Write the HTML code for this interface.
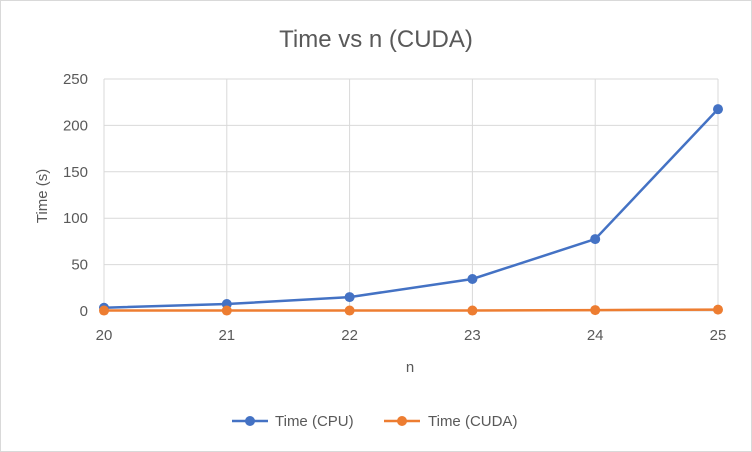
<!DOCTYPE html>
<html><head><meta charset="utf-8"><style>
html,body{margin:0;padding:0;background:#fff;}
svg{display:block;font-family:"Liberation Sans",sans-serif;}
</style></head><body>
<svg id="chart" width="752" height="452">
<rect x="0.5" y="0.5" width="751" height="451" fill="#fff" stroke="#d9d9d9"/>
<text x="376" y="47" text-anchor="middle" font-size="24" fill="#595959">Time vs n (CUDA)</text>
<g id="grid"></g><g id="axes"></g><g id="series"></g>
<text x="410" y="372" text-anchor="middle" font-size="15" fill="#595959">n</text>
<text transform="translate(47,196) rotate(-90)" text-anchor="middle" font-size="15" fill="#595959">Time (s)</text>
<g>
<g>
<line x1="232" y1="421" x2="268" y2="421" stroke="#4472c4" stroke-width="2.5"/>
<circle cx="250" cy="421" r="5" fill="#4472c4"/>
<text x="275" y="426" font-size="15" fill="#595959">Time (CPU)</text></g>
<g>
<line x1="384" y1="421" x2="420" y2="421" stroke="#ed7d31" stroke-width="2.5"/>
<circle cx="402" cy="421" r="5" fill="#ed7d31"/>
<text x="428" y="426" font-size="15" fill="#595959">Time (CUDA)</text></g>
</g>
</svg>
<script>
const categories=[20,21,22,23,24,25];
const cpuValues=[3.5,7.5,15,34.5,77.5,217.5];
const cudaValues=[0.5,0.5,0.5,0.5,1,1.5];
const yTicks=[0,50,100,150,200,250];
const NS="http://www.w3.org/2000/svg";
const x0=104,x1=718,y0=311,y1=79;
function xs(i){return x0+(x1-x0)*i/(categories.length-1);}
function ys(v){return y0-(y0-y1)*v/250;}
function mk(tag,attrs,parent){const e=document.createElementNS(NS,tag);for(const k in attrs)e.setAttribute(k,attrs[k]);parent.appendChild(e);return e;}
const grid=document.getElementById('grid'),axes=document.getElementById('axes'),ser=document.getElementById('series');
yTicks.forEach(t=>{
 if(t>0){const l=mk('line',{x1:x0,x2:x1,y1:ys(t),y2:ys(t),stroke:'#d9d9d9','stroke-width':1},grid);
 
 }
 const tx=mk('text',{x:88,y:ys(t)+5,'text-anchor':'end','font-size':15,fill:'#595959'},axes);
 tx.textContent=t;
 
 
});
categories.forEach((c,i)=>{
 const l=mk('line',{x1:xs(i),x2:xs(i),y1:y1,y2:y0,stroke:'#d9d9d9','stroke-width':1},grid);
 
 
 const tx=mk('text',{x:xs(i),y:340,'text-anchor':'middle','font-size':15,fill:'#595959'},axes);
 tx.textContent=c;
 
 
});
const ax=mk('line',{x1:x0,x2:x1,y1:y0,y2:y0,stroke:'#d9d9d9','stroke-width':1},axes);


function draw(vals,color,name){
 const p=mk('polyline',{points:vals.map((v,i)=>xs(i)+','+ys(v)).join(' '),fill:'none',stroke:color,'stroke-width':2.5},ser);
 
 
 vals.forEach((v,i)=>{const c=mk('circle',{cx:xs(i),cy:ys(v),r:5,fill:color},ser);
 
 });
}
draw(cpuValues,'#4472c4','cpu');
draw(cudaValues,'#ed7d31','cuda');
</script>
</body></html>
